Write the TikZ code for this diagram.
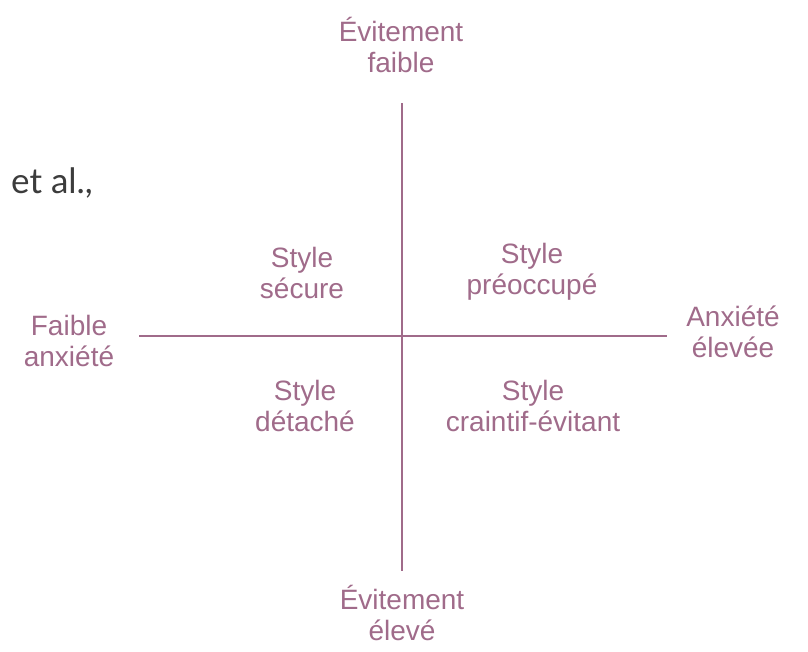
\documentclass[tikz,border=0pt]{standalone}
\usepackage{fontspec}
\setmainfont{Liberation Sans}
\newfontfamily\notefont{Lato}
\usepackage{xcolor}
\usetikzlibrary{positioning}
\definecolor{mauve}{HTML}{A06B8A}
\definecolor{notegray}{HTML}{3C3C3C}

\begin{document}
\begin{tikzpicture}[x=1pt, y=-1pt, lbl/.style={align=center, inner sep=0pt, text=mauve, font=\fontsize{28}{31.5}\selectfont}, axis/.style={draw=mauve, line width=1.4pt}]
    \useasboundingbox (0,0) rectangle (808,651);
    % axes
    \coordinate (vtop) at (402,103);
    \coordinate (vbot) at (402,571);
    \coordinate (hleft) at (139,336);
    \coordinate (hright) at (667,336);
    \draw [axis] (vtop) -- (vbot);
    \draw [axis] (hleft) -- (hright);
    % axis ends
    \node [lbl] (evfaible) at (401,45) {Évitement\\faible};
    \node [lbl] (eveleve) at (402,613) {Évitement\\élevé};
    \node [lbl] (anxfaible) at (69,341) {Faible\\anxiété};
    \node [lbl] (anxeleve) at (733,332) {Anxiété\\élevée};
    % quadrants
    \node [lbl] (secure) at (302,273) {Style\\sécure};
    \node [lbl] (preocc) at (532,272) {Style\\préoccupé};
    \node [lbl] (detache) at (305,406) {Style\\détaché};
    \node [lbl] (craintif) at (533,406) {Style\\craintif-évitant};
    % cut-off caption text
    \node [anchor=base west, inner sep=0pt, text=notegray, font=\notefont\fontsize{35}{40}\selectfont] (etal) at (11,193) {et al.,};
\end{tikzpicture}
\end{document}
